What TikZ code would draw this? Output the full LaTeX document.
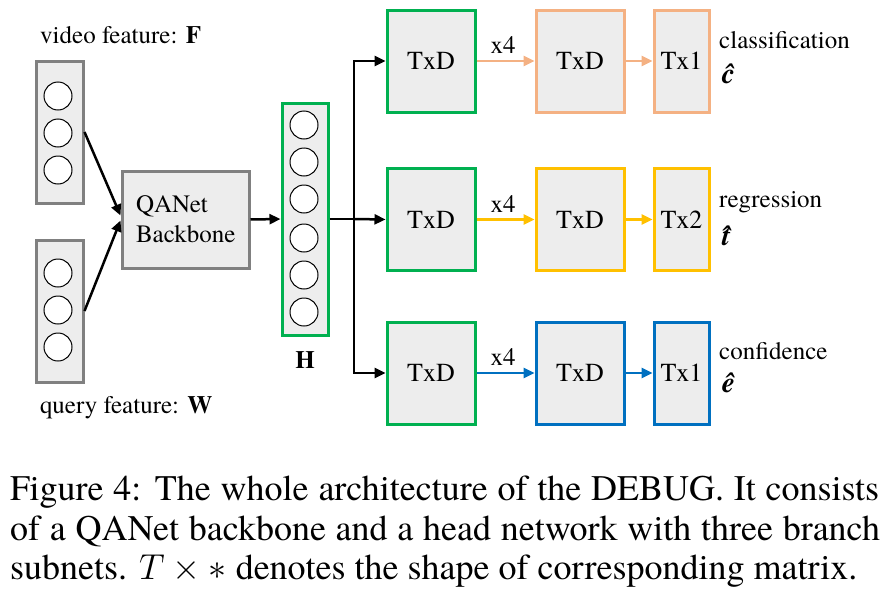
\RequirePackage{fix-cm}
\documentclass[tikz,border=0pt]{standalone}
\usepackage{fontspec}
\setmainfont{TeX Gyre Termes}
\usetikzlibrary{arrows.meta,calc}
\definecolor{cgreen}{HTML}{00B050}
\definecolor{corange}{HTML}{F4B183}
\definecolor{cyellow}{HTML}{FFC000}
\definecolor{cblue}{HTML}{0070C0}
\definecolor{cgray}{HTML}{808080}
\definecolor{cfill}{HTML}{EDEDED}
\tikzset{
  lbl/.style={font=\fontsize{25}{30}\selectfont, inner sep=0pt},
  blk/.style={draw=#1, line width=3pt, fill=cfill, inner sep=0pt, font=\fontsize{26}{30}\selectfont},
  unit/.style={circle, draw=black, line width=1pt, fill=white, minimum size=28pt, inner sep=0pt},
  arr/.style={draw=#1, line width=2.5pt, -{Triangle[length=11pt,width=10pt]}},
  arr/.default=black,
  captxt/.style={font=\fontsize{36}{40}\selectfont, inner sep=0pt, anchor=base west, text height=25pt, text depth=7pt}
}
\begin{document}
\begin{tikzpicture}[x=1pt,y=-1pt]
\useasboundingbox (0,0) rectangle (885,597);
% input feature columns
\node[blk=cgray, minimum width=47pt, minimum height=142pt] (vid) at (59.5,132) {};
\node[blk=cgray, minimum width=47pt, minimum height=142pt] (qry) at (59.5,311) {};
\foreach \y [count=\i] in {96,133,170}{\node[unit] (v\i) at (58,\y) {};}
\foreach \y [count=\i] in {273,310,347}{\node[unit] (q\i) at (58,\y) {};}
\node[lbl, anchor=base west] (vlab) at (40,43) {video feature: \textbf{F}};
\node[lbl, anchor=base west] (qlab) at (40,413) {query feature: \textbf{W}};
% backbone
\node[blk=cgray, minimum width=127pt, minimum height=97pt, text width=99pt, inner xsep=14pt, align=left, font=\fontsize{25}{30}\selectfont] (qa) at (185.5,219.5) {QANet\\Backbone};
% H
\node[blk=cgreen, minimum width=46pt, minimum height=232pt] (H) at (305,219) {};
\foreach \y [count=\i] in {125,162,199,238,275,312}{\node[unit] (h\i) at (304,\y) {};}
\node[lbl, anchor=base] (hlab) at (305,368) {\textbf{H}};
% connectors left part
\draw[arr] (vid.east) -- ([yshift=4pt]qa.west);
\draw[arr] (qry.east) -- ([yshift=-1pt]qa.west);
\draw[arr] (qa.east) -- (H.west);
% head
\coordinate (j) at (354,219);
\node[blk=cgreen, minimum width=88pt, minimum height=102pt] (g1) at (431,61) {TxD};
\node[blk=cgreen, minimum width=88pt, minimum height=102pt] (g2) at (431,219.5) {TxD};
\node[blk=cgreen, minimum width=88pt, minimum height=102pt] (g3) at (431,373) {TxD};
\node[blk=corange, minimum width=88pt, minimum height=102pt] (o1) at (580,61) {TxD};
\node[blk=cyellow, minimum width=88pt, minimum height=102pt] (o2) at (580,219.5) {TxD};
\node[blk=cblue, minimum width=88pt, minimum height=102pt] (o3) at (580,373) {TxD};
\node[blk=corange, minimum width=55pt, minimum height=102pt] (t1) at (681.5,61) {Tx1};
\node[blk=cyellow, minimum width=55pt, minimum height=102pt] (t2) at (681.5,219.5) {Tx2};
\node[blk=cblue, minimum width=55pt, minimum height=102pt] (t3) at (681.5,373) {Tx1};
\draw[line width=2.5pt] (H.east) -- (j);
\draw[arr] (j) |- (g1.west);
\draw[arr] (j) -- (g2.west);
\draw[arr] (j) |- (g3.west);
\draw[arr=corange] (g1) -- (o1);
\draw[arr=cyellow] (g2) -- (o2);
\draw[arr=cblue] (g3) -- (o3);
\draw[arr=corange] (o1) -- (t1);
\draw[arr=cyellow] (o2) -- (t2);
\draw[arr=cblue] (o3) -- (t3);
\node[lbl, anchor=base] (x1) at (503,53) {x4};
\node[lbl, anchor=base] (x2) at (503,212) {x4};
\node[lbl, anchor=base] (x3) at (503,365) {x4};
\node[lbl, anchor=base west] (l1) at (719,48) {classification};
\node[lbl, anchor=base west] (l2) at (719,207) {regression};
\node[lbl, anchor=base west] (l3) at (719,359) {confidence};
\node[lbl, anchor=base west, font=\fontsize{29}{30}\selectfont\bfseries\itshape] (s1) at (722,83) {\^{c}};
\node[lbl, anchor=base west, font=\fontsize{29}{30}\selectfont\bfseries\itshape] (s2) at (722,245) {\^{t}};
\node[lbl, anchor=base west, font=\fontsize{29}{30}\selectfont\bfseries\itshape] (s3) at (722,392) {\^{e}};
% caption
\node[captxt] (c1) at (10,500) {\makebox[869pt][s]{Figure 4: The whole architecture of the DEBUG. It consists}};
\node[captxt] (c2) at (10,540) {\makebox[870pt][s]{of a QANet backbone and a head network with three branch}};
\node[captxt] (c3) at (10,579) {subnets. $T\times *$ denotes the shape of corresponding matrix.};
\end{tikzpicture}
\end{document}
